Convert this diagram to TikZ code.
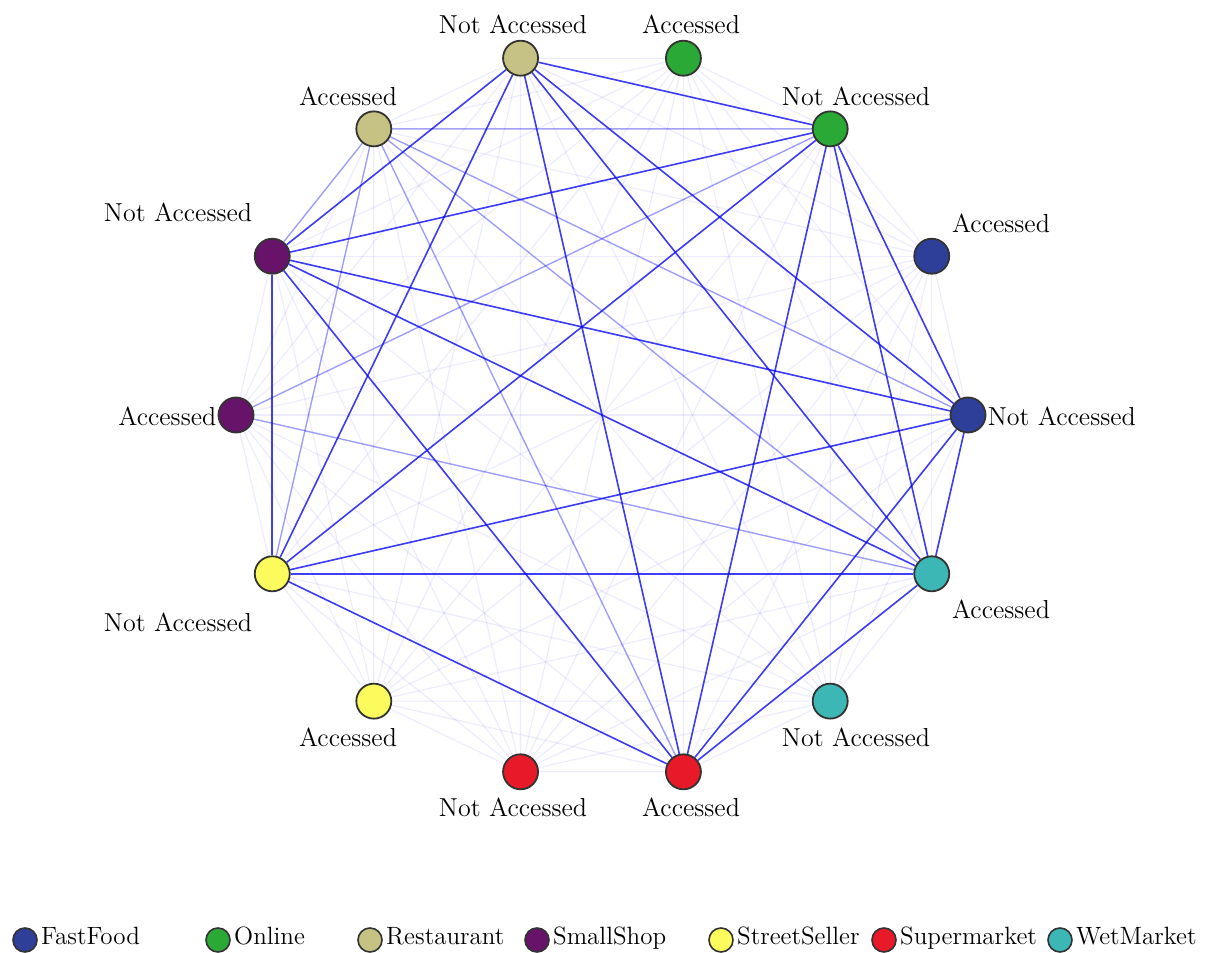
\documentclass[tikz,border=0pt]{standalone}
\usepackage{fontspec}
\usetikzlibrary{positioning}

\pgfdeclarelayer{background}
\pgfsetlayers{background,main}

\definecolor{fastfood}{HTML}{2E3F9A}
\definecolor{online}{HTML}{2BA936}
\definecolor{restaurant}{HTML}{C6C284}
\definecolor{smallshop}{HTML}{68136A}
\definecolor{streetseller}{HTML}{FBFB5E}
\definecolor{supermarket}{HTML}{E81A2A}
\definecolor{wetmarket}{HTML}{3CB7B5}
\definecolor{linkblue}{HTML}{0A0AF5}

\tikzset{every picture/.style={line width=0.75pt},
  outlet/.style={circle, draw=black!80, line width=0.9pt, minimum size=17.5pt, inner sep=0pt},
  keydot/.style={circle, draw=black!80, line width=0.8pt, minimum size=12pt, inner sep=0pt},
  tag/.style={inner sep=1pt, font=\fontsize{13}{15}\selectfont},
  keytag/.style={inner sep=0pt, text height=1.55ex, text depth=0.45ex, font=\fontsize{12.5}{15}\selectfont},
  faintlink/.style={draw=linkblue, opacity=0.08, line width=0.6pt},
  midlink/.style={draw=linkblue, opacity=0.35, line width=0.7pt},
  stronglink/.style={draw=linkblue, opacity=0.78, line width=0.8pt}}

\begin{document}
\begin{tikzpicture}[x=0.5pt,y=-0.5pt]
\useasboundingbox (0,0) rectangle (1207,953);

% outlets on the ring, 14 steps, starting at the right
\foreach \k/\c in {0/fastfood,1/fastfood,2/online,3/online,4/restaurant,5/restaurant,
    6/smallshop,7/smallshop,8/streetseller,9/streetseller,10/supermarket,11/supermarket,
    12/wetmarket,13/wetmarket}
  \node[outlet, fill=\c] (v\k) at ({602+366*cos(\k*360/14)},{415-366*sin(\k*360/14)}) {};

% Text Nodes
\node[tag, anchor=west] (t0) at (985,416) {Not Accessed};
\node[tag] (t1) at (1001,223) {Accessed};
\node[tag] (t2) at (856,96) {Not Accessed};
\node[tag] (t3) at (691,24) {Accessed};
\node[tag] (t4) at (513,24) {Not Accessed};
\node[tag] (t5) at (348,96) {Accessed};
\node[tag] (t6) at (178,212) {Not Accessed};
\node[tag, anchor=east] (t7) at (219,416) {Accessed};
\node[tag] (t8) at (178,622) {Not Accessed};
\node[tag] (t9) at (348,737) {Accessed};
\node[tag] (t10) at (513,807) {Not Accessed};
\node[tag] (t11) at (691,807) {Accessed};
\node[tag] (t12) at (856,737) {Not Accessed};
\node[tag] (t13) at (1001,609) {Accessed};

\begin{pgfonlayer}{background}
% every pair, faint
\foreach \i in {0,...,12} {
  \pgfmathtruncatemacro\nxt{\i+1}
  \foreach \j in {\nxt,...,13}
    \draw[faintlink] (v\i) -- (v\j);
}
% middle links
\foreach \i/\j in {5/0,5/2,5/6,5/8,5/11,5/13,7/2,7/13}
  \draw[midlink] (v\i) -- (v\j);
% strong links
\foreach \i/\j in {0/2,0/4,0/6,0/8,0/11,0/13,2/4,2/6,2/8,2/11,2/13,
    4/6,4/8,4/11,4/13,6/8,6/11,6/13,8/11,8/13,11/13}
  \draw[stronglink] (v\i) -- (v\j);
\end{pgfonlayer}

% legend
\node[keydot, fill=fastfood] (k1) at (25,940) {};
\node[keytag, right=1.5pt of k1] (l1) {FastFood};
\node[keydot, fill=online] (k2) at (218,940) {};
\node[keytag, right=1.5pt of k2] (l2) {Online};
\node[keydot, fill=restaurant] (k3) at (370,940) {};
\node[keytag, right=1.5pt of k3] (l3) {Restaurant};
\node[keydot, fill=smallshop] (k4) at (537,940) {};
\node[keytag, right=1.5pt of k4] (l4) {SmallShop};
\node[keydot, fill=streetseller] (k5) at (721,940) {};
\node[keytag, right=1.5pt of k5] (l5) {StreetSeller};
\node[keydot, fill=supermarket] (k6) at (884,940) {};
\node[keytag, right=1.5pt of k6] (l6) {Supermarket};
\node[keydot, fill=wetmarket] (k7) at (1060,940) {};
\node[keytag, right=1.5pt of k7] (l7) {WetMarket};

\end{tikzpicture}
\end{document}
